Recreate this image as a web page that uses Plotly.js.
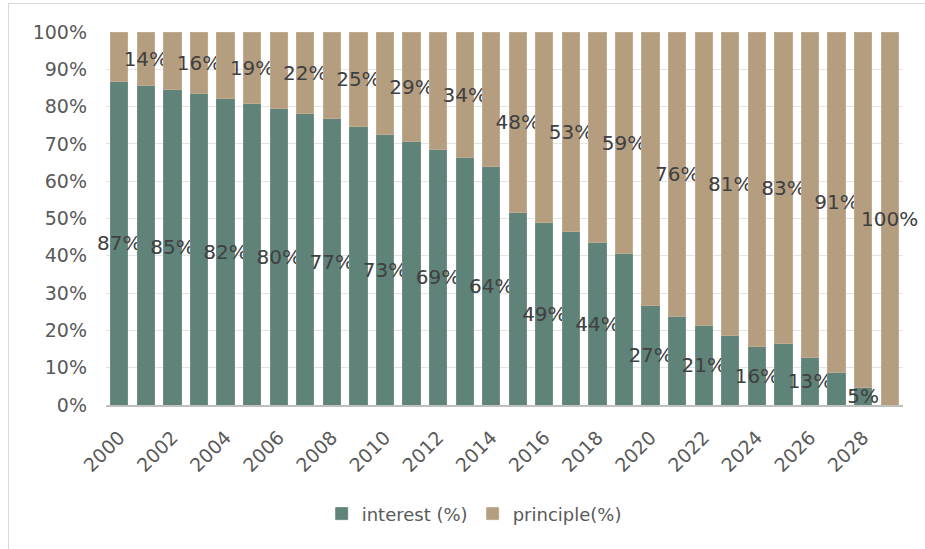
<!DOCTYPE html>
<html>
<head>
<meta charset="utf-8">
<script src="https://cdn.plot.ly/plotly-3.0.1.min.js"></script>
<style>
  html, body { margin: 0; padding: 0; background: #ffffff; overflow: hidden; }
  #chart { position: absolute; left: 0; top: 0; width: 925px; height: 549px; }
  #frame { position: absolute; left: 8px; top: 3px; width: 1000px; height: 700px;
           border: 1px solid #d9d9d9; pointer-events: none; }
</style>
</head>
<body>
<div id="chart"></div>
<div id="frame"></div>
<script>
// Years of the loan schedule
const years = [2000, 2001, 2002, 2003, 2004, 2005, 2006, 2007, 2008, 2009,
               2010, 2011, 2012, 2013, 2014, 2015, 2016, 2017, 2018, 2019,
               2020, 2021, 2022, 2023, 2024, 2025, 2026, 2027, 2028, 2029];

// Share of each yearly payment going to interest (%)
const interestPct = [86.6, 85.6, 84.6, 83.6, 82.1, 80.9, 79.6, 78.1, 76.7, 74.8,
                     72.6, 70.6, 68.6, 66.3, 63.9, 51.6, 49.0, 46.6, 43.6, 40.6,
                     26.6, 23.8, 21.3, 18.6, 15.8, 16.6, 12.8, 8.6, 4.6, 0];

// Share of each yearly payment going to principle (%)
const principlePct = [13.4, 14.4, 15.4, 16.4, 17.9, 19.1, 20.4, 21.9, 23.3, 25.2,
                      27.4, 29.4, 31.4, 33.7, 36.1, 48.4, 51.0, 53.4, 56.4, 59.4,
                      73.4, 76.2, 78.7, 81.4, 84.2, 83.4, 87.2, 91.4, 95.4, 100];

// Tick labels on the category axis (every second year)
const yearTicks = [2000, 2002, 2004, 2006, 2008, 2010, 2012, 2014,
                   2016, 2018, 2020, 2022, 2024, 2026, 2028];

const seriesNames = ['interest (%)', 'principle(%)'];

// Interest labels on even years, principle labels on odd years
const pctLabel = (v) => Math.round(v) + '%';
const interestText = interestPct.map((v, i) => (years[i] % 2 === 0 ? pctLabel(v) : ''));
const principleText = principlePct.map((v, i) => (years[i] % 2 === 1 ? pctLabel(v) : ''));

const FONT = 'DejaVu Sans, sans-serif';
const labelFont = { family: FONT, size: 20, color: '#404040' };

const barCommon = {
  type: 'bar',
  x: years,
  textposition: 'inside',
  insidetextanchor: 'middle',
  textangle: 0,
  constraintext: 'none',
  cliponaxis: false,
  insidetextfont: labelFont,
  textfont: labelFont,
  hoverinfo: 'skip'
};

const traces = [
  Object.assign({}, barCommon, {
    name: seriesNames[0],
    y: interestPct,
    text: interestText,
    marker: { color: '#5f8279', line: { color: '#6f8f86', width: 1 } }
  }),
  Object.assign({}, barCommon, {
    name: seriesNames[1],
    y: principlePct,
    text: principleText,
    marker: { color: '#b59e80', line: { color: '#c0ab90', width: 1 } }
  })
];

const layout = {
  width: 925,
  height: 549,
  margin: { l: 106, r: 22, t: 32, b: 144 },
  paper_bgcolor: 'rgba(0,0,0,0)',
  plot_bgcolor: '#ffffff',
  barmode: 'stack',
  bargap: 0.35,
  showlegend: true,
  legend: {
    orientation: 'h',
    x: 0.462, xanchor: 'center',
    y: -0.292, yanchor: 'middle',
    font: { family: FONT, size: 18, color: '#595959' },
    itemwidth: 30,
    traceorder: 'normal'
  },
  xaxis: {
    type: 'linear',
    range: [1999.5, 2029.5],
    tickmode: 'array',
    tickvals: yearTicks,
    ticktext: yearTicks.map(String),
    tickangle: -45,
    ticks: '',
    ticklabelstandoff: 12,
    tickfont: { family: FONT, size: 19, color: '#595959' },
    showgrid: false,
    zeroline: false,
    showline: true,
    linecolor: '#bfbfbf',
    linewidth: 2
  },
  yaxis: {
    range: [0, 100],
    tickmode: 'linear',
    tick0: 0,
    dtick: 10,
    ticksuffix: '%',
    ticks: '',
    ticklabelstandoff: 18,
    tickfont: { family: FONT, size: 19, color: '#595959' },
    showgrid: true,
    gridcolor: '#e4e4e4',
    gridwidth: 1,
    zeroline: false,
    showline: false
  }
};

Plotly.newPlot('chart', traces, layout, { displayModeBar: false, staticPlot: true });
</script>
</body>
</html>
